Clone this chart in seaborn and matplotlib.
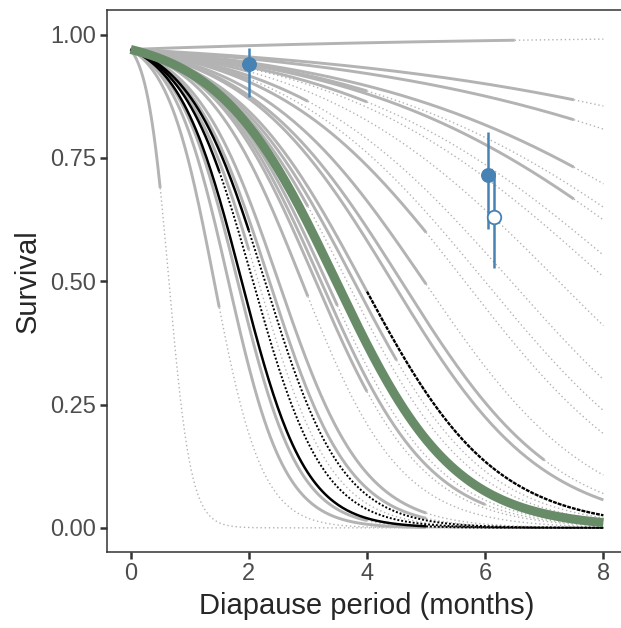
import numpy as np
import pandas as pd
import matplotlib.pyplot as plt
import seaborn as sns

# Survival at month 0, shared by every curve
start_surv = 0.97

# Gray curves: monthly decline on the logit scale, and last observed month
# (solid up to that month, dotted beyond it)
gray_slope = [-0.153, 0.2125, 0.2545, 0.33, 0.357, 0.371, 0.408, 0.43, 0.48,
              0.54, 0.58, 0.615, 0.70, 0.759, 0.786, 0.89, 0.92, 0.95, 1.05,
              1.08, 1.11, 1.2, 1.39, 1.48, 1.61, 1.92, 2.1, 2.46, 5.36]
gray_end = [6.5, 7.5, 7.5, 7.5, 4.0, 7.5, 4.0, 2.0, 2.0,
            3.0, 2.0, 5.0, 5.0, 7.0, 8.0, 4.0, 4.5, 3.0, 3.5,
            6.0, 4.0, 3.0, 5.0, 5.0, 2.0, 4.0, 5.0, 1.5, 0.5]

# Black curves
black_slope = [1.85, 1.53, 1.68]
black_end = [5.0, 2.0, 1.5]

# Curve shown in black only after month 4
late_slope = 0.89
late_start = 4.0

# Overall curve (green)
green_slope = 1.0

# Observed survival (blue)
obs_month = [2.0, 6.05]
obs_surv = [0.94, 0.715]
obs_low = [0.874, 0.606]
obs_high = [0.973, 0.802]
open_month = [6.15]
open_surv = [0.63]
open_low = [0.526]
open_high = [0.721]

GRAY = '#b3b3b3'
GREEN = '#688c68'
BLUE = '#4682b4'

intercept = np.log(start_surv / (1 - start_surv))


def curve(slope, t0, t1):
    t = np.linspace(t0, t1, 200)
    return pd.DataFrame({'month': t, 'surv': 1 / (1 + np.exp(-(intercept - slope * t)))})


sns.set_style('ticks')
plt.rcParams['font.family'] = ['Liberation Sans', 'DejaVu Sans']

fig = plt.figure(figsize=(6.21, 6.28), dpi=100)
ax = fig.add_axes([0.1723, 0.1210, 0.8374, 0.8631])

# dotted extrapolations first
for b, e in zip(gray_slope, gray_end):
    if e < 8:
        d = curve(b, e, 8)
        sns.lineplot(data=d, x='month', y='surv', ax=ax, color=GRAY, linewidth=1.0,
                     linestyle=(0, (1, 2)), estimator=None, sort=False)
for b, e in zip(gray_slope, gray_end):
    d = curve(b, 0, e)
    sns.lineplot(data=d, x='month', y='surv', ax=ax, color=GRAY, linewidth=2.1,
                 estimator=None, sort=False, solid_capstyle='butt')

for b, e in zip(black_slope, black_end):
    d = curve(b, e, 8)
    sns.lineplot(data=d, x='month', y='surv', ax=ax, color='black', linewidth=1.4,
                 linestyle=(0, (1, 1)), estimator=None, sort=False)
    d = curve(b, 0, e)
    sns.lineplot(data=d, x='month', y='surv', ax=ax, color='black', linewidth=1.8,
                 estimator=None, sort=False, solid_capstyle='butt')

d = curve(late_slope, late_start, 8)
sns.lineplot(data=d, x='month', y='surv', ax=ax, color='black', linewidth=1.7,
             linestyle=(0, (1.6, 0.5)), estimator=None, sort=False)

d = curve(green_slope, 0, 8)
sns.lineplot(data=d, x='month', y='surv', ax=ax, color=GREEN, linewidth=6.5,
             estimator=None, sort=False, solid_capstyle='butt')

# observed points
ax.vlines(obs_month, obs_low, obs_high, color=BLUE, linewidth=1.8, zorder=5)
ax.vlines(open_month, open_low, open_high, color=BLUE, linewidth=1.8, zorder=5)
sns.scatterplot(x=obs_month, y=obs_surv, ax=ax, color=BLUE, s=95, edgecolor=BLUE,
                linewidth=1, zorder=6)
sns.scatterplot(x=open_month, y=open_surv, ax=ax, facecolor='white', s=95,
                edgecolor=BLUE, linewidth=1.3, zorder=6)

ax.set_xlim(-0.4, 8.4)
ax.set_ylim(-0.049, 1.05)
ax.set_xticks([0, 2, 4, 6, 8])
ax.set_yticks([0, 0.25, 0.5, 0.75, 1.0])
ax.set_yticklabels(['0.00', '0.25', '0.50', '0.75', '1.00'])
ax.tick_params(axis='both', length=5, width=1.8, color='#333333',
               labelsize=17, labelcolor='#4d4d4d', pad=3)
for s in ax.spines.values():
    s.set_visible(True)
    s.set_color('#333333')
    s.set_linewidth(1.1)
ax.set_xlabel('Diapause period (months)', fontsize=21, labelpad=5)
ax.set_ylabel('Survival', fontsize=21, labelpad=6)

fig.savefig('out.png', dpi=100)
